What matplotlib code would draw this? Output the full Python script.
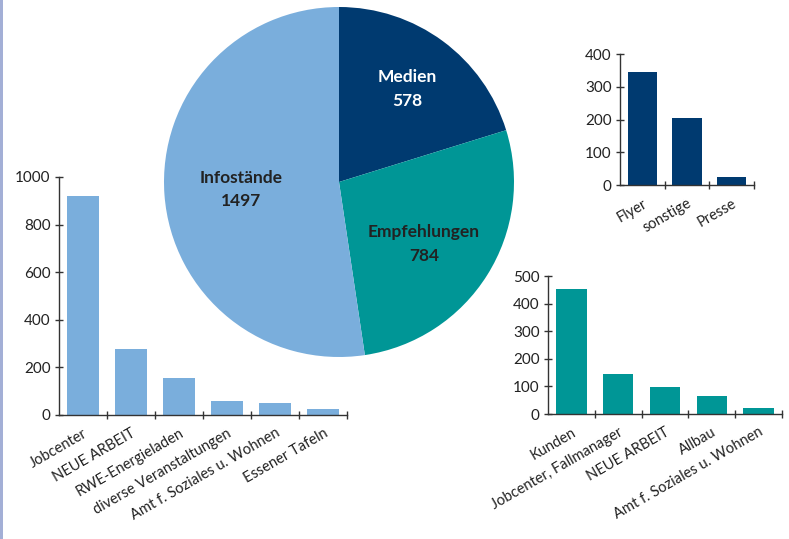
import numpy as np
import matplotlib
matplotlib.use("Agg")
import matplotlib.pyplot as plt
from matplotlib.patches import Rectangle

# ── Data ──────────────────────────────────────────────────────────────────────
pie_labels = ["Medien", "Empfehlungen", "Infostände"]
pie_values = [578, 784, 1497]

info_cats = ["Jobcenter", "NEUE ARBEIT", "RWE-Energieladen",
             "diverse Veranstaltungen", "Amt f. Soziales u. Wohnen", "Essener Tafeln"]
info_vals = [920, 277, 155, 60, 50, 25]

medien_cats = ["Flyer", "sonstige", "Presse"]
medien_vals = [345, 205, 25]

empf_cats = ["Kunden", "Jobcenter, Fallmanager", "NEUE ARBEIT",
             "Allbau", "Amt f. Soziales u. Wohnen"]
empf_vals = [453, 145, 98, 65, 23]

# ── Style ─────────────────────────────────────────────────────────────────────
LIGHT = "#7aaedc"
TEAL = "#009696"
NAVY = "#003a70"
AXC = "#333333"
TXT = "#222222"
plt.rcParams["font.family"] = ["Lato", "DejaVu Sans"]

W, H = 789, 539
fig = plt.figure(figsize=(W / 100, H / 100), dpi=100)
fig.patch.set_facecolor("white")

# thin rule down the left edge
fig.patches.append(Rectangle((0, 0), 2.5 / W, 1, transform=fig.transFigure,
                             facecolor="#a3afd6", edgecolor="none"))


def px_axes(x0, y_top, x1, y_bot):
    """Axes from pixel box (origin top-left)."""
    return fig.add_axes([x0 / W, (H - y_bot) / H, (x1 - x0) / W, (y_bot - y_top) / H])


def bar_panel(ax, cats, vals, color, ymax, ystep):
    n = len(cats)
    x = np.arange(n)
    ax.bar(x, vals, width=0.65, color=color, zorder=2)
    ax.set_xlim(-0.5, n - 0.5)
    ax.set_ylim(0, ymax)
    ax.set_facecolor("none")
    for s in ("top", "right"):
        ax.spines[s].set_visible(False)
    for s in ("left", "bottom"):
        ax.spines[s].set_color(AXC)
        ax.spines[s].set_linewidth(1.0)
    ax.set_yticks(np.arange(0, ymax + 1, ystep))
    ax.tick_params(axis="y", direction="inout", length=6, width=1, color=AXC,
                   labelsize=11, labelcolor=TXT, pad=3)
    # boundary ticks between categories, labels at bar centres
    ax.set_xticks(np.arange(n) + 0.5)
    ax.set_xticklabels([])
    ax.tick_params(axis="x", which="major", direction="inout", length=6, width=1, color=AXC)
    ax.set_xticks(x, minor=True)
    ax.set_xticklabels(cats, minor=True, rotation=30, ha="right",
                       rotation_mode="anchor", fontsize=10.5, color=TXT)
    ax.tick_params(axis="x", which="minor", length=0, pad=8)


ax_info = px_axes(59, 177, 347, 415)
bar_panel(ax_info, info_cats, info_vals, LIGHT, 1000, 200)

ax_med = px_axes(620, 54, 754, 185.3)
bar_panel(ax_med, medien_cats, medien_vals, NAVY, 400, 100)

ax_emp = px_axes(548, 276, 782, 414)
bar_panel(ax_emp, empf_cats, empf_vals, TEAL, 500, 100)

# ── Pie ───────────────────────────────────────────────────────────────────────
R = 175
ax_pie = px_axes(339 - R, 182 - R, 339 + R, 182 + R)
ax_pie.set_facecolor("none")
wedges, _ = ax_pie.pie(pie_values, colors=[NAVY, TEAL, LIGHT], startangle=90,
                       counterclock=False, radius=1.0,
                       wedgeprops=dict(linewidth=0))
ax_pie.set_aspect("equal")
ax_pie.set_xlim(-1, 1)
ax_pie.set_ylim(-1, 1)

label_dist = [0.66, 0.60, 0.56]
label_turn = [0, -4, 0]   # small angular nudge in degrees
label_cols = ["white", TXT, TXT]
for w, lab, val, d, t, c in zip(wedges, pie_labels, pie_values, label_dist,
                                label_turn, label_cols):
    ang = np.deg2rad((w.theta1 + w.theta2) / 2 + t)
    ax_pie.text(d * np.cos(ang), d * np.sin(ang), f"{lab}\n{val}", ha="center",
                va="center", fontsize=12.5, fontweight="bold", color=c, linespacing=1.55)

fig.savefig("out.png", dpi=100, facecolor="white")
